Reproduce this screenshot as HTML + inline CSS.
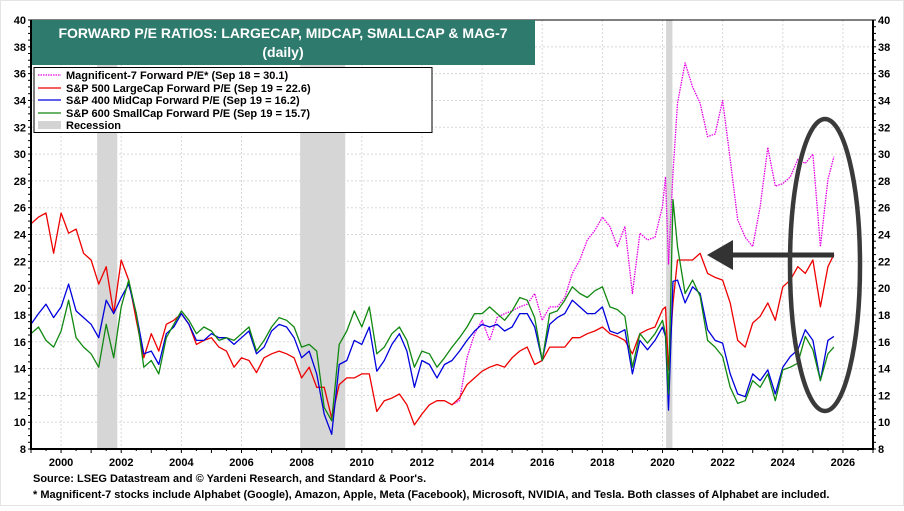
<!DOCTYPE html>
<html><head><meta charset="utf-8"><style>
html,body{margin:0;padding:0;background:#fff;}
body{width:904px;height:506px;overflow:hidden;font-family:"Liberation Sans",Arial,sans-serif;}
svg text{font-family:"Liberation Sans",Arial,sans-serif;font-weight:bold;}
</style></head><body>
<svg id="chart" width="904" height="506" viewBox="0 0 904 506" xmlns="http://www.w3.org/2000/svg">
<rect x="0.5" y="0.5" width="903" height="505" fill="#fff" stroke="#e4e4e4"/>
<g id="grid"></g>
<g id="rec"></g>
<g id="series"></g>
<g id="axes"></g>
<g>
<rect x="32" y="20" width="503" height="45" fill="#2e7b6e"/>
<text x="283" y="38" fill="#fff" font-size="14" text-anchor="middle">FORWARD P/E RATIOS: LARGECAP, MIDCAP, SMALLCAP &amp; MAG-7</text>
<text x="283" y="57" fill="#fff" font-size="14" text-anchor="middle">(daily)</text>
</g>
<g>
<rect x="34" y="67.5" width="398" height="65" fill="#fff" stroke="#000" stroke-width="1"/>
<line x1="38" y1="75" x2="61" y2="75" stroke="#e800e8" stroke-width="1.2" stroke-dasharray="1.5,1"/>
<text x="66" y="79" font-size="11">Magnificent-7 Forward P/E* (Sep 18 = 30.1)</text>
<line x1="38" y1="88" x2="61" y2="88" stroke="#ee0000" stroke-width="1.2"/>
<text x="66" y="92" font-size="11">S&amp;P 500 LargeCap Forward P/E (Sep 19 = 22.6)</text>
<line x1="38" y1="100" x2="61" y2="100" stroke="#0000dd" stroke-width="1.2"/>
<text x="66" y="104" font-size="11">S&amp;P 400 MidCap Forward P/E (Sep 19 = 16.2)</text>
<line x1="38" y1="113" x2="61" y2="113" stroke="#118811" stroke-width="1.2"/>
<text x="66" y="117" font-size="11">S&amp;P 600 SmallCap Forward P/E (Sep 19 = 15.7)</text>
<rect x="38" y="121" width="23" height="8" fill="#d3d3d3"/>
<text x="66" y="129" font-size="11">Recession</text>
</g>
<g id="annot">
<line x1="834" y1="255" x2="728" y2="255" stroke="#333" stroke-width="5"/>
<polygon points="707,255 733,240 733,270" fill="#333"/>
<ellipse cx="825" cy="265" rx="35" ry="146" fill="none" stroke="#3a3a3a" stroke-width="4.5"/>
</g>
<text x="33" y="482" font-size="11">Source: LSEG Datastream and © Yardeni Research, and Standard &amp; Poor's.</text>
<text x="33" y="498" font-size="11">* Magnificent-7 stocks include Alphabet (Google), Amazon, Apple, Meta (Facebook), Microsoft, NVIDIA, and Tesla. Both classes of Alphabet are included.</text>
</svg>
<script>
const dates=[1999,1999.25,1999.5,1999.75,2000,2000.25,2000.5,2000.75,2001,2001.25,2001.5,2001.75,2002,2002.25,2002.5,2002.75,2003,2003.25,2003.5,2003.75,2004,2004.25,2004.5,2004.75,2005,2005.25,2005.5,2005.75,2006,2006.25,2006.5,2006.75,2007,2007.25,2007.5,2007.75,2008,2008.25,2008.5,2008.75,2009,2009.25,2009.5,2009.75,2010,2010.25,2010.5,2010.75,2011,2011.25,2011.5,2011.75,2012,2012.25,2012.5,2012.75,2013,2013.25,2013.5,2013.75,2014,2014.25,2014.5,2014.75,2015,2015.25,2015.5,2015.75,2016,2016.25,2016.5,2016.75,2017,2017.25,2017.5,2017.75,2018,2018.25,2018.5,2018.75,2019,2019.25,2019.5,2019.75,2020,2020.1,2020.2,2020.35,2020.5,2020.75,2021,2021.25,2021.5,2021.75,2022,2022.25,2022.5,2022.75,2023,2023.25,2023.5,2023.75,2024,2024.25,2024.5,2024.75,2025,2025.25,2025.5,2025.7];
const sp500=[24.8,25.3,25.6,22.6,25.6,24.1,24.4,22.6,22.1,20.3,21.6,18.1,22.1,20.6,17.6,14.8,16.6,15.3,17.3,17.6,18.1,17.3,15.8,16.1,16.3,15.6,15.3,14.1,14.8,14.6,13.7,14.8,15.1,15.3,15.1,14.8,13.3,14.1,12.6,12.6,10.3,12.8,13.3,13.3,13.6,13.6,10.8,11.6,11.8,12.1,11.3,9.8,10.6,11.3,11.6,11.6,11.3,11.8,12.8,13.3,13.8,14.1,14.3,14.1,14.8,15.3,15.6,14.3,14.6,15.6,15.6,15.6,16.3,16.3,16.6,16.8,17.1,16.6,16.4,16.1,15.1,16.6,16.9,17.1,18.4,18.6,13.9,18.9,22.1,22.1,22.1,22.6,21.1,20.8,20.6,18.9,16.1,15.6,17.4,17.9,18.9,17.6,20.1,20.6,21.6,21.1,22.1,18.6,21.6,22.5];
const sp400=[17.3,18.1,18.8,17.8,18.6,20.3,18.3,17.8,17.3,16.3,19.1,18.1,19.3,20.3,18.1,15.1,15.3,14.3,16.6,17.1,18.1,17.3,16.1,16.1,16.6,16.3,16.3,15.8,16.3,16.8,15.1,15.6,16.8,17.3,17.1,16.3,14.8,15.3,13.6,10.6,9.1,14.3,14.6,16.1,15.8,17.1,13.8,14.6,15.8,16.6,15.3,12.6,14.6,14.3,13.3,14.3,14.6,15.3,16.1,16.8,17.3,17.1,17.3,16.8,17.1,18.1,18.1,17.1,14.6,17.3,17.8,18.1,19.1,18.6,18.1,18.1,18.6,16.8,16.6,16.9,13.6,16.1,15.4,16.1,17.1,16.4,10.9,20.5,20.6,18.9,20.1,19.6,16.9,16.1,15.9,13.6,12.1,11.9,13.6,13.1,13.9,12.1,14.1,14.9,15.4,16.9,16.1,13.1,16.1,16.4];
const sp600=[16.6,17.1,16.1,15.6,16.8,19.1,16.3,15.6,15.1,14.1,17.3,14.8,18.6,20.6,18.1,14.1,14.6,13.6,16.3,17.3,18.3,17.6,16.6,17.1,16.8,16.1,16.3,16.1,16.6,17.1,15.3,16.1,17.1,17.8,17.6,17.1,15.6,15.8,15.3,11.1,10.1,15.8,16.8,18.3,17.1,18.6,15.1,15.6,16.6,17.1,16.1,14.1,15.3,15.1,14.1,14.8,15.6,16.3,17.1,18.1,18.1,18.6,18.1,17.6,18.3,19.3,19.1,17.8,14.6,18.1,18.3,19.1,20.1,19.6,19.3,19.8,20.1,18.6,18.4,17.9,14.1,16.6,15.9,16.6,17.6,16.6,12.1,26.6,23.1,19.6,20.6,19.4,16.1,15.6,14.9,12.6,11.4,11.6,13.1,12.6,13.6,11.6,13.9,14.1,14.4,16.4,15.4,13.1,15.1,15.6];
const mag7=[null,null,null,null,null,null,null,null,null,null,null,null,null,null,null,null,null,null,null,null,null,null,null,null,null,null,null,null,null,null,null,null,null,null,null,null,null,null,null,null,null,null,null,null,null,null,null,null,null,null,null,null,null,null,null,null,11.3,11.6,14.8,16.6,17.6,16.1,17.8,18.1,18.3,18.6,18.8,19.6,17.6,18.6,18.6,19.3,21.1,22.1,23.6,24.3,25.3,24.6,23.1,24.6,19.6,24.1,23.6,23.8,26.1,28.3,21.8,28.6,33.8,36.8,35.0,33.8,31.3,31.5,34.0,29.6,25.1,23.8,23.1,26.1,30.5,27.6,27.8,28.3,29.6,29.3,30.0,23.1,28.1,29.8];
const yTicks=[8,10,12,14,16,18,20,22,24,26,28,30,32,34,36,38,40];
const xTicks=[2000,2002,2004,2006,2008,2010,2012,2014,2016,2018,2020,2022,2024,2026];
const recessions=[[2001.2,2001.87],[2007.95,2009.45],[2020.12,2020.33]];

const L=31,R=873,T=20,B=449,X0=1999,X1=2027,Y0=8,Y1=40;
const sx=v=>L+(v-X0)/(X1-X0)*(R-L);
const sy=v=>B-(v-Y0)/(Y1-Y0)*(B-T);
const NS='http://www.w3.org/2000/svg';
function mk(tag,attrs,parent){const e=document.createElementNS(NS,tag);for(const k in attrs)e.setAttribute(k,attrs[k]);parent.appendChild(e);return e;}
const grid=document.getElementById('grid'),rec=document.getElementById('rec'),ser=document.getElementById('series'),axes=document.getElementById('axes');
yTicks.forEach(t=>{
  const g=mk('line',{x1:L,x2:R,y1:sy(t),y2:sy(t),stroke:'#d8d8d8','stroke-width':1,'stroke-dasharray':'2,2'},grid);
  
  
  const a=mk('text',{x:L-5,y:sy(t)+4,'font-size':11,'text-anchor':'end'},axes);a.textContent=t;
  
  
  const b=mk('text',{x:R+5,y:sy(t)+4,'font-size':11,'text-anchor':'start'},axes);b.textContent=t;
  
  
});
xTicks.forEach(t=>{
  const g=mk('line',{x1:sx(t),x2:sx(t),y1:T,y2:B,stroke:'#d8d8d8','stroke-width':1,'stroke-dasharray':'2,2'},grid);
  
  
  const a=mk('text',{x:sx(t),y:466,'font-size':11,'text-anchor':'middle'},axes);a.textContent=t;
  
  
});
for(let y=X0;y<=X1;y+=0.5){mk('line',{x1:sx(y),x2:sx(y),y1:B,y2:B+(Number.isInteger(y)?4:2),stroke:'#000','stroke-width':1},axes);}
for(let v=Y0;v<=Y1;v+=0.5){mk('line',{x1:L-3,x2:L,y1:sy(v),y2:sy(v),stroke:'#000'},axes);mk('line',{x1:R,x2:R+3,y1:sy(v),y2:sy(v),stroke:'#000'},axes);}
recessions.forEach(r=>{
  const e=mk('rect',{x:sx(r[0]),y:T,width:sx(r[1])-sx(r[0]),height:B-T,fill:'#d6d6d6'},rec);
  
  
});
function line(vals,color,dash,name){
  let d='',pen=false;
  vals.forEach((v,i)=>{if(v==null){pen=false;return;}d+=(pen?'L':'M')+sx(dates[i]).toFixed(1)+','+sy(v).toFixed(1);pen=true;});
  const p=mk('path',{d:d,fill:'none',stroke:color,'stroke-width':1.3,'stroke-linejoin':'round'},ser);
  if(dash)p.setAttribute('stroke-dasharray',dash);
  
  
}
line(mag7,'#e800e8','1.5,1','mag7-line');
line(sp500,'#ee0000',null,'sp500-line');
line(sp400,'#0000dd',null,'sp400-line');
line(sp600,'#118811',null,'sp600-line');
const fr=mk('path',{d:`M${L},${T}L${L},${B}L${R},${B}L${R},${T}`,fill:'none',stroke:'#000','stroke-width':2},axes);


mk('line',{x1:L,x2:R,y1:T,y2:T,stroke:'#000','stroke-width':1},axes);
</script>
</body></html>
